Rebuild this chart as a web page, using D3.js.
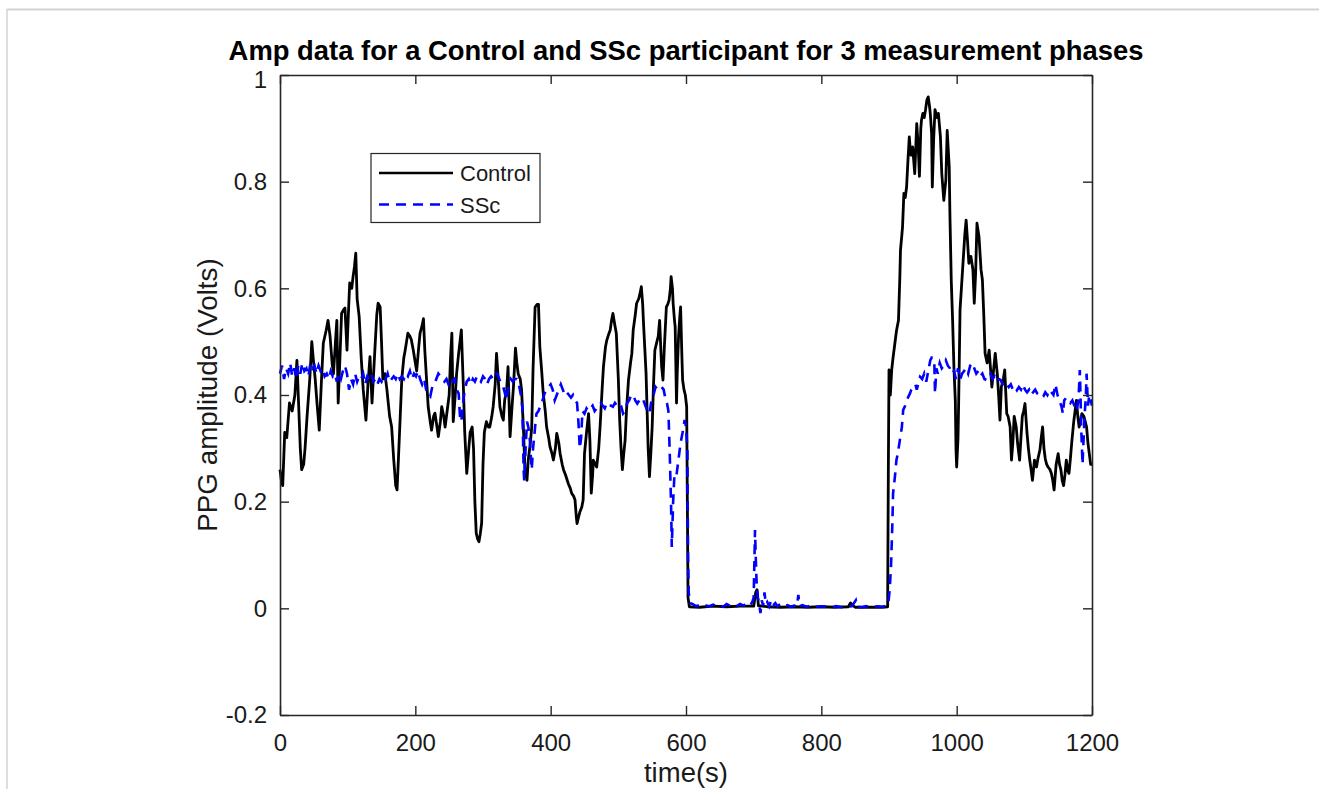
<!DOCTYPE html>
<html>
<head>
<meta charset="utf-8">
<script src="https://cdn.jsdelivr.net/npm/d3@7/dist/d3.min.js"></script>
<style>
  html, body { margin: 0; padding: 0; background: #fff; }
  svg { display: block; font-family: "Liberation Sans", Arial, sans-serif; }
</style>
</head>
<body>
<svg id="chart" width="1319" height="789"></svg>
<script>
// ---------------- DATA ----------------
const titleText = "Amp data for a Control and SSc participant for 3 measurement phases";
const xLabel = "time(s)";
const yLabel = "PPG amplitude (Volts)";
const xTicks = [0, 200, 400, 600, 800, 1000, 1200];
const yTicks = [-0.2, 0, 0.2, 0.4, 0.6, 0.8, 1];
const seriesNames = ["Control", "SSc"];

const controlTime = [0,2,4,7,10,14,18,22,25,27,30,32,35,37,40,44,47,49,52,55,58,61,64,68,71,74,77,79,82,84,86,88,91,94,96,99,101,103,106,108,110,112,114,117,120,123,127,130,133,136,140,143,145,148,150,152,155,158,162,165,168,171,173,175,178,180,183,185,189,192,194,197,200,202,205,207,210,212,214,217,219,222,224,227,229,232,234,237,239,242,244,247,250,252,254,256,259,261,264,266,268,271,273,276,279,281,284,286,288,290,292,294,296,298,300,302,305,308,310,313,315,318,320,323,325,328,330,332,335,337,340,343,345,348,350,352,355,357,360,362,365,367,370,372,374,377,380,382,384,387,389,392,394,397,399,402,404,407,409,412,414,417,419,422,426,429,431,434,436,438,439,441,443,446,448,450,453,456,458,460,462,463,466,468,471,473,476,478,481,483,486,488,490,492,495,497,500,502,504,506,508,510,512,515,518,520,522,525,527,530,532,534,536,537,539,541,543,544,546,548,550,552,554,557,559,561,563,564,566,568,571,573,575,577,578,580,581,583,584,586,587,589,591,592,594,595,597,599,601,602,603,605,620,640,660,680,700,703,705,707,720,740,760,780,800,820,840,843,846,850,870,890,898,899,900,902,904,906,908,911,914,916,917,919,920,922,924,926,928,930,932,933,935,938,941,943,945,947,948,950,952,954,956,958,960,961,963,964,966,968,971,973,976,978,981,984,986,989,990,992,994,996,998,999,1000,1002,1003,1005,1008,1010,1012,1014,1016,1018,1021,1024,1026,1028,1030,1033,1036,1038,1040,1042,1045,1048,1050,1052,1054,1057,1060,1062,1064,1066,1069,1071,1074,1076,1079,1081,1083,1085,1088,1090,1093,1095,1097,1099,1101,1104,1106,1108,1110,1112,1115,1118,1120,1123,1125,1127,1129,1131,1133,1135,1138,1140,1142,1144,1147,1150,1152,1154,1156,1158,1160,1162,1164,1166,1168,1170,1173,1175,1177,1179,1181,1183,1185,1188,1190,1192,1194,1196,1198,1200];
const controlAmp = [0.26,0.24,0.23,0.33,0.32,0.385,0.37,0.40,0.465,0.40,0.30,0.26,0.27,0.30,0.36,0.43,0.50,0.47,0.43,0.38,0.334,0.42,0.497,0.52,0.54,0.51,0.46,0.44,0.50,0.54,0.385,0.45,0.553,0.56,0.563,0.484,0.55,0.61,0.60,0.622,0.64,0.666,0.58,0.547,0.47,0.41,0.353,0.42,0.472,0.385,0.48,0.55,0.572,0.565,0.50,0.43,0.44,0.41,0.36,0.34,0.28,0.23,0.222,0.28,0.37,0.43,0.47,0.484,0.516,0.51,0.504,0.484,0.46,0.445,0.49,0.516,0.53,0.543,0.484,0.42,0.378,0.35,0.334,0.36,0.366,0.34,0.322,0.35,0.378,0.36,0.34,0.37,0.40,0.47,0.516,0.35,0.40,0.44,0.478,0.50,0.522,0.415,0.33,0.253,0.30,0.33,0.34,0.30,0.20,0.141,0.13,0.125,0.14,0.16,0.27,0.33,0.35,0.34,0.34,0.36,0.378,0.42,0.478,0.42,0.378,0.36,0.353,0.39,0.41,0.453,0.322,0.38,0.415,0.488,0.46,0.44,0.43,0.41,0.33,0.26,0.24,0.28,0.31,0.34,0.45,0.565,0.57,0.57,0.49,0.44,0.403,0.37,0.34,0.32,0.303,0.29,0.278,0.30,0.328,0.31,0.29,0.27,0.26,0.25,0.234,0.225,0.216,0.21,0.203,0.17,0.159,0.17,0.18,0.19,0.203,0.29,0.33,0.365,0.315,0.216,0.25,0.278,0.27,0.265,0.30,0.34,0.41,0.453,0.49,0.503,0.515,0.522,0.54,0.553,0.53,0.516,0.43,0.353,0.30,0.26,0.29,0.315,0.37,0.428,0.46,0.478,0.522,0.55,0.572,0.58,0.59,0.603,0.57,0.54,0.49,0.44,0.35,0.303,0.247,0.29,0.34,0.42,0.484,0.50,0.51,0.54,0.48,0.453,0.428,0.49,0.565,0.57,0.578,0.60,0.622,0.60,0.572,0.54,0.528,0.385,0.44,0.51,0.55,0.565,0.47,0.428,0.41,0.40,0.378,0.20,0.02,0.003,0.002,0.004,0.003,0.004,0.004,0.03,0.035,0.005,0.003,0.002,0.003,0.002,0.003,0.002,0.003,0.01,0.006,0.002,0.002,0.002,0.003,0.25,0.447,0.40,0.447,0.47,0.49,0.52,0.54,0.62,0.672,0.70,0.715,0.778,0.77,0.79,0.84,0.884,0.85,0.85,0.865,0.815,0.909,0.87,0.81,0.90,0.915,0.928,0.92,0.935,0.953,0.959,0.94,0.928,0.89,0.79,0.88,0.935,0.92,0.928,0.884,0.815,0.765,0.803,0.896,0.828,0.74,0.615,0.54,0.45,0.39,0.30,0.265,0.32,0.39,0.56,0.62,0.66,0.70,0.728,0.69,0.647,0.66,0.635,0.572,0.628,0.722,0.697,0.635,0.616,0.553,0.478,0.46,0.484,0.45,0.415,0.44,0.478,0.44,0.40,0.353,0.415,0.43,0.447,0.365,0.36,0.34,0.278,0.31,0.36,0.34,0.31,0.278,0.32,0.36,0.37,0.384,0.328,0.30,0.278,0.26,0.24,0.278,0.265,0.28,0.297,0.32,0.34,0.30,0.28,0.27,0.265,0.26,0.253,0.24,0.222,0.27,0.29,0.27,0.26,0.24,0.23,0.25,0.278,0.26,0.253,0.28,0.31,0.35,0.37,0.39,0.36,0.34,0.35,0.365,0.36,0.35,0.34,0.31,0.29,0.27,0.27];

const sscTime = [0,3,6,9,12,15,18,21,24,27,30,33,36,39,42,45,48,51,54,57,60,63,66,69,72,75,78,81,84,87,90,93,96,99,102,105,108,111,114,117,120,123,126,129,132,135,138,141,144,147,150,153,156,159,162,165,168,171,174,177,180,183,186,189,192,195,198,201,204,207,210,213,216,219,222,225,228,231,234,237,240,243,246,249,252,255,258,261,264,266,268,270,273,276,279,282,285,288,291,294,297,300,303,306,309,312,315,318,321,324,327,330,333,335,338,341,344,347,350,353,356,358,359,360,361,363,365,367,369,371,372,374,377,379,382,385,388,391,394,397,400,403,406,409,412,415,418,421,424,427,430,433,436,439,441,443,445,447,450,453,456,459,462,465,468,471,474,477,480,483,486,489,492,495,498,501,504,507,510,513,516,519,522,525,528,531,534,537,540,543,546,549,552,555,558,561,564,567,570,572,574,576,577,578,579,581,583,586,589,592,595,598,600,602,603,604,606,610,615,620,625,630,635,640,645,650,655,660,665,670,675,680,685,690,695,698,700,702,703,704,705,706,708,710,712,714,716,718,720,723,726,729,732,735,740,745,750,755,760,764,766,768,772,778,785,792,800,808,815,822,830,838,845,851,853,860,866,872,878,884,890,897,899,901,903,905,906,909,911,913,916,919,921,924,926,928,931,933,936,939,941,943,946,949,952,955,958,961,963,965,967,968,970,972,975,978,981,984,987,990,993,996,999,1002,1005,1008,1011,1014,1017,1020,1023,1026,1029,1032,1035,1038,1041,1044,1047,1050,1053,1056,1059,1062,1065,1068,1071,1074,1077,1080,1083,1086,1089,1092,1095,1098,1101,1104,1107,1110,1113,1116,1119,1122,1125,1128,1131,1134,1137,1140,1143,1146,1149,1152,1155,1157,1159,1162,1165,1168,1171,1174,1177,1180,1182,1183,1184,1186,1187,1189,1191,1192,1194,1196,1198,1200];
const sscAmp = [0.44,0.455,0.43,0.45,0.44,0.46,0.435,0.45,0.43,0.455,0.44,0.46,0.445,0.45,0.435,0.46,0.45,0.455,0.44,0.455,0.445,0.45,0.435,0.44,0.43,0.445,0.435,0.44,0.425,0.44,0.43,0.445,0.455,0.44,0.41,0.43,0.42,0.44,0.425,0.435,0.43,0.44,0.42,0.435,0.43,0.44,0.425,0.43,0.42,0.43,0.425,0.435,0.43,0.44,0.425,0.43,0.435,0.43,0.44,0.43,0.435,0.43,0.44,0.435,0.445,0.43,0.44,0.435,0.445,0.43,0.42,0.43,0.41,0.40,0.397,0.415,0.42,0.43,0.44,0.435,0.43,0.425,0.43,0.42,0.43,0.425,0.43,0.41,0.403,0.36,0.35,0.38,0.41,0.425,0.43,0.42,0.43,0.425,0.435,0.43,0.425,0.435,0.43,0.42,0.43,0.435,0.43,0.44,0.44,0.43,0.42,0.415,0.40,0.39,0.42,0.43,0.425,0.43,0.43,0.42,0.40,0.378,0.33,0.26,0.24,0.30,0.35,0.34,0.32,0.28,0.26,0.30,0.34,0.365,0.37,0.38,0.39,0.403,0.41,0.415,0.42,0.41,0.39,0.40,0.41,0.42,0.41,0.40,0.405,0.40,0.395,0.40,0.39,0.385,0.35,0.30,0.32,0.37,0.365,0.375,0.37,0.375,0.38,0.37,0.375,0.38,0.385,0.38,0.375,0.385,0.38,0.38,0.378,0.385,0.38,0.384,0.38,0.365,0.37,0.385,0.39,0.40,0.40,0.39,0.384,0.39,0.385,0.39,0.38,0.37,0.365,0.39,0.40,0.415,0.41,0.415,0.415,0.41,0.39,0.384,0.37,0.29,0.24,0.19,0.115,0.20,0.253,0.25,0.28,0.31,0.33,0.353,0.34,0.30,0.10,0.03,0.01,0.008,0.004,0.006,0.003,0.005,0.004,0.007,0.004,0.006,0.003,0.008,0.005,0.006,0.004,0.008,0.005,0.01,0.006,0.012,0.02,0.147,0.10,0.06,0.035,0.02,0.01,-0.009,0.015,0.005,0.03,0.008,0.012,0.004,0.015,0.006,0.01,0.004,0.008,0.004,0.006,0.003,0.005,0.004,0.025,0.004,0.006,0.003,0.005,0.003,0.004,0.003,0.002,0.004,0.002,0.003,0.004,0.015,0.003,0.002,0.004,0.002,0.003,0.004,0.003,0.005,0.01,0.034,0.08,0.16,0.215,0.25,0.278,0.29,0.315,0.34,0.372,0.38,0.39,0.395,0.403,0.41,0.415,0.42,0.41,0.42,0.434,0.43,0.44,0.425,0.445,0.465,0.47,0.47,0.46,0.403,0.45,0.44,0.46,0.45,0.455,0.465,0.455,0.45,0.44,0.445,0.43,0.45,0.428,0.44,0.445,0.45,0.44,0.455,0.46,0.45,0.44,0.445,0.435,0.44,0.43,0.428,0.435,0.44,0.43,0.435,0.425,0.43,0.428,0.42,0.425,0.42,0.415,0.42,0.41,0.415,0.409,0.415,0.41,0.42,0.41,0.405,0.41,0.40,0.405,0.41,0.403,0.40,0.395,0.397,0.405,0.40,0.41,0.405,0.40,0.42,0.40,0.39,0.378,0.365,0.39,0.395,0.39,0.385,0.39,0.38,0.37,0.39,0.447,0.40,0.34,0.27,0.30,0.36,0.40,0.44,0.38,0.40,0.39,0.38];

if (controlTime.length !== controlAmp.length || sscTime.length !== sscAmp.length) {
  throw new Error(`length mismatch control ${controlTime.length}/${controlAmp.length} ssc ${sscTime.length}/${sscAmp.length}`);
}

// ---------------- LAYOUT ----------------
const W = 1319, H = 789;
const plot = { left: 280, top: 75, width: 812, height: 640 };
const svg = d3.select("#chart");

svg.append("rect").attr("x", 0).attr("y", 0).attr("width", W).attr("height", H).attr("fill", "#fff");
// screenshot frame lines
svg.append("line").attr("x1", 7).attr("x2", W).attr("y1", 9.5).attr("y2", 9.5)
   .attr("stroke", "#d3d3d3").attr("stroke-width", 2);
svg.append("line").attr("x1", 7).attr("x2", 7).attr("y1", 9).attr("y2", H)
   .attr("stroke", "#d3d3d3").attr("stroke-width", 1.5);

const x = d3.scaleLinear().domain([0, 1200]).range([plot.left, plot.left + plot.width]);
const y = d3.scaleLinear().domain([-0.2, 1]).range([plot.top + plot.height, plot.top]);

const axisColor = "#262626";
const g = svg.append("g");

// series
const control = controlTime.map((t, i) => [t, controlAmp[i]]);
const ssc = sscTime.map((t, i) => [t, sscAmp[i]]);
const line = d3.line().x(d => x(d[0])).y(d => y(d[1]));

g.append("path").datum(control).attr("d", line)
  .attr("fill", "none").attr("stroke", "#000").attr("stroke-width", 2.8)
  .attr("stroke-linejoin", "round");
g.append("path").datum(ssc).attr("d", line)
  .attr("fill", "none").attr("stroke", "#0000ff").attr("stroke-width", 2.6)
  .attr("stroke-dasharray", "10,7");

// axes (box with inward ticks on all four sides)
const tickLen = 9;
const fmt = v => (Math.abs(v) < 1e-9 ? "0" : String(+v.toFixed(1)));

const axBottom = svg.append("g").attr("transform", `translate(0,${plot.top + plot.height})`)
  .call(d3.axisBottom(x).tickValues(xTicks).tickSizeInner(-tickLen).tickSizeOuter(0).tickPadding(19).tickFormat(d => String(d)));
const axTop = svg.append("g").attr("transform", `translate(0,${plot.top})`)
  .call(d3.axisTop(x).tickValues(xTicks).tickSizeInner(-tickLen).tickSizeOuter(0).tickFormat(""));
const axLeft = svg.append("g").attr("transform", `translate(${plot.left},0)`)
  .call(d3.axisLeft(y).tickValues(yTicks).tickSizeInner(-tickLen).tickSizeOuter(0).tickPadding(13).tickFormat(fmt));
const axRight = svg.append("g").attr("transform", `translate(${plot.left + plot.width},0)`)
  .call(d3.axisRight(y).tickValues(yTicks).tickSizeInner(-tickLen).tickSizeOuter(0).tickFormat(""));

[axBottom, axTop, axLeft, axRight].forEach(a => {
  a.select(".domain").attr("stroke", axisColor).attr("stroke-width", 1.6);
  a.selectAll(".tick line").attr("stroke", axisColor).attr("stroke-width", 1.4);
  a.selectAll("text").attr("fill", "#1a1a1a").style("font-size", "24px")
    .style("font-family", "'Liberation Sans', Arial, sans-serif");
});
// top tick label "1" sits slightly lower, clear of the title
axLeft.selectAll(".tick text").filter(d => d === 1).attr("dy", "0.5em");

// title
svg.append("text").attr("x", plot.left + plot.width / 2).attr("y", 59.5)
  .attr("text-anchor", "middle").style("font-size", "27.4px").style("font-weight", "bold")
  .attr("fill", "#000").text(titleText);
// x label
svg.append("text").attr("x", plot.left + plot.width / 2).attr("y", 782)
  .attr("text-anchor", "middle").style("font-size", "27.5px").attr("fill", "#1a1a1a").text(xLabel);
// y label
svg.append("text").attr("transform", `translate(217,${plot.top + plot.height / 2}) rotate(-90)`)
  .attr("text-anchor", "middle").style("font-size", "27.8px").attr("fill", "#1a1a1a").text(yLabel);

// legend
const lg = svg.append("g");
lg.append("rect").attr("x", 371).attr("y", 153.5).attr("width", 169).attr("height", 69)
  .attr("fill", "#fff").attr("stroke", axisColor).attr("stroke-width", 1.2);
const legendItems = [
  { name: seriesNames[0], color: "#000", dash: null, yy: 173 },
  { name: seriesNames[1], color: "#0000ff", dash: "10,7", yy: 204.5 }
];
legendItems.forEach(it => {
  lg.append("line").attr("x1", 379).attr("x2", 453).attr("y1", it.yy).attr("y2", it.yy)
    .attr("stroke", it.color).attr("stroke-width", 2.6)
    .attr("stroke-dasharray", it.dash);
  lg.append("text").attr("x", 460).attr("y", it.yy + 8).style("font-size", "22px")
    .attr("fill", "#1a1a1a").text(it.name);
});
</script>
</body>
</html>
